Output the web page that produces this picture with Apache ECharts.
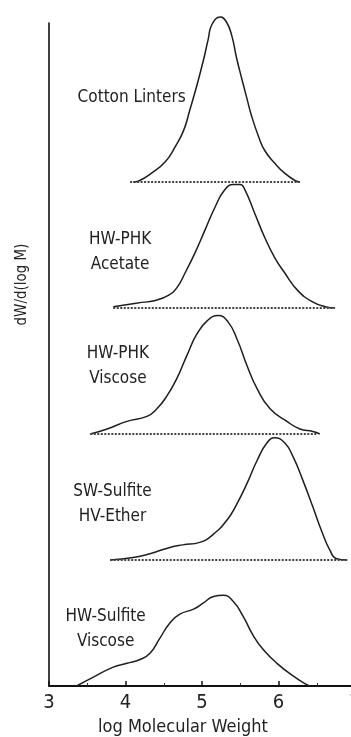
<!DOCTYPE html>
<html><head><meta charset="utf-8">
<script src="https://cdn.jsdelivr.net/npm/echarts@6/dist/echarts.min.js"></script>
<style>html,body{margin:0;padding:0;background:#fff}#c{width:351px;height:737px}</style>
</head><body><div id="c"></div>
<script>
// ---- data ----
const xTickValues = [3, 4, 5, 6, 7];
const sampleNames = ['Cotton Linters', 'HW-PHK\nAcetate', 'HW-PHK\nViscose', 'SW-Sulfite\nHV-Ether', 'HW-Sulfite\nViscose'];
const stackOffsets = [4, 3, 2, 1, 0];

const cottonX = [4.10, 4.18, 4.34, 4.52, 4.65, 4.76, 4.84, 4.93, 5.02, 5.08, 5.13, 5.24, 5.32, 5.39, 5.45, 5.52, 5.58, 5.65, 5.74, 5.82, 5.95, 6.08, 6.22, 6.28];
const cottonY = [0.00, 0.01, 0.07, 0.16, 0.28, 0.41, 0.57, 0.76, 0.97, 1.13, 1.25, 1.31, 1.27, 1.16, 0.99, 0.82, 0.68, 0.52, 0.36, 0.25, 0.15, 0.07, 0.01, 0.00];

const acetateX = [3.84, 4.16, 4.39, 4.56, 4.67, 4.78, 4.91, 5.04, 5.17, 5.30, 5.41, 5.50, 5.56, 5.69, 5.82, 5.95, 6.08, 6.25, 6.44, 6.61, 6.74];
const acetateY = [0.01, 0.04, 0.06, 0.10, 0.16, 0.28, 0.44, 0.62, 0.80, 0.94, 0.98, 0.98, 0.94, 0.75, 0.56, 0.40, 0.28, 0.14, 0.05, 0.01, 0.00];

const phkViscoseX = [3.54, 3.76, 4.02, 4.28, 4.41, 4.54, 4.67, 4.80, 4.93, 5.07, 5.21, 5.34, 5.46, 5.59, 5.72, 5.89, 6.11, 6.28, 6.45, 6.54];
const phkViscoseY = [0.00, 0.04, 0.10, 0.14, 0.20, 0.30, 0.44, 0.62, 0.79, 0.90, 0.94, 0.89, 0.75, 0.54, 0.36, 0.20, 0.10, 0.04, 0.02, 0.00];

const etherX = [3.80, 4.10, 4.32, 4.58, 4.75, 4.97, 5.14, 5.33, 5.46, 5.59, 5.72, 5.85, 5.95, 6.08, 6.19, 6.32, 6.45, 6.57, 6.67, 6.76, 6.90];
const etherY = [0.00, 0.02, 0.05, 0.10, 0.12, 0.14, 0.20, 0.32, 0.45, 0.61, 0.79, 0.93, 0.97, 0.93, 0.82, 0.63, 0.42, 0.22, 0.08, 0.01, 0.00];

const sulfiteViscoseX = [3.36, 3.58, 3.84, 4.02, 4.19, 4.32, 4.45, 4.58, 4.71, 4.89, 5.02, 5.15, 5.28, 5.41, 5.54, 5.67, 5.80, 5.98, 6.19, 6.37, 6.41];
const sulfiteViscoseY = [0.00, 0.07, 0.15, 0.18, 0.21, 0.26, 0.38, 0.50, 0.57, 0.61, 0.66, 0.71, 0.72, 0.67, 0.55, 0.40, 0.29, 0.18, 0.08, 0.01, 0.00];

const baselineStart = [4.06, 3.84, 3.54, 3.80];
const baselineEnd = [6.28, 6.71, 6.50, 6.90];

// label anchor positions (data coordinates)
const labelX = [4.08, 3.93, 3.90, 3.83, 3.74];
const labelY = [4.67, 3.44, 2.54, 1.44, 0.45];

// ---- chart ----
const FONT = "'Liberation Sans Narrow','Arial Narrow','DejaVu Sans Condensed','Liberation Sans',sans-serif";
const curvesX = [cottonX, acetateX, phkViscoseX, etherX, sulfiteViscoseX];
const curvesY = [cottonY, acetateY, phkViscoseY, etherY, sulfiteViscoseY];

const series = [];
curvesX.forEach((xs, i) => {
  series.push({
    type: 'line', name: sampleNames[i], smooth: 0.5, symbol: 'none', clip: false,
    lineStyle: { color: '#1e1e1e', width: 1.5 },
    data: xs.map((x, k) => [x, curvesY[i][k] + stackOffsets[i]]),
    markPoint: {
      symbol: 'circle', symbolSize: 0, silent: true,
      label: { show: true, position: 'inside', color: '#222', fontFamily: FONT, fontSize: 17, lineHeight: 25,
        formatter: () => sampleNames[i] },
      data: [{ coord: [labelX[i], labelY[i]] }]
    }
  });
});
baselineStart.forEach((s, i) => {
  series.push({
    type: 'line', symbol: 'none', silent: true,
    lineStyle: { color: '#444', width: 1.9, type: [2, 1.5] },
    data: [[s, stackOffsets[i]], [baselineEnd[i], stackOffsets[i]]]
  });
});

const chart = echarts.init(document.getElementById('c'));
chart.setOption({
  animation: false,
  backgroundColor: '#fff',
  grid: { left: 49, right: -4, top: 23, bottom: 51, outerBoundsMode: 'none' },
  xAxis: {
    type: 'value', min: xTickValues[0], max: xTickValues[xTickValues.length - 1], interval: 1,
    name: 'log Molecular Weight', nameLocation: 'middle', nameGap: 30,
    nameTextStyle: { fontFamily: FONT, fontSize: 18, color: '#222', padding: [0, 38, 0, 0] },
    axisLine: { lineStyle: { color: '#111', width: 2 } },
    axisTick: { show: true, inside: true, length: 5, lineStyle: { color: '#111', width: 1.5 } },
    minorTick: { show: true, splitNumber: 2, length: 3, lineStyle: { color: '#333' } },
    axisLabel: { fontFamily: FONT, fontSize: 20, color: '#222', margin: 7, showMaxLabel: true },
    splitLine: { show: false }
  },
  yAxis: {
    type: 'value', min: 0, max: 5.262,
    name: 'dW/d(log M)', nameLocation: 'middle', nameRotate: 90, nameGap: 19,
    nameTextStyle: { fontFamily: FONT, fontSize: 15, color: '#222', padding: [0, 0, 0, 140] },
    axisLine: { show: true, lineStyle: { color: '#111', width: 1.6 } },
    axisTick: { show: false }, axisLabel: { show: false }, splitLine: { show: false }
  },
  series: series
});
</script></body></html>
